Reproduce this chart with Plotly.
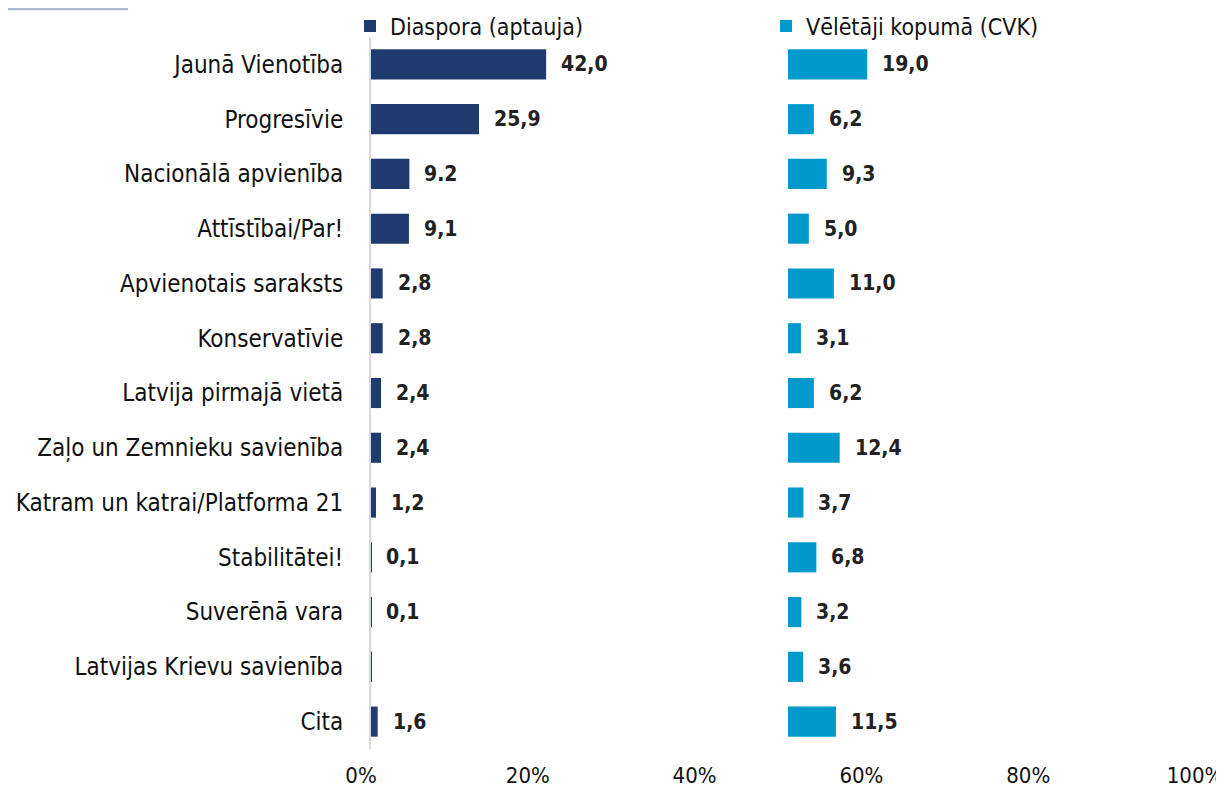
import plotly.graph_objects as go

categories = ["Jaunā Vienotība", "Progresīvie", "Nacionālā apvienība", "Attīstībai/Par!",
              "Apvienotais saraksts", "Konservatīvie", "Latvija pirmajā vietā",
              "Zaļo un Zemnieku savienība", "Katram un katrai/Platforma 21",
              "Stabilitātei!", "Suverēnā vara", "Latvijas Krievu savienība", "Cita"]
diaspora = [42.0, 25.9, 9.2, 9.1, 2.8, 2.8, 2.4, 2.4, 1.2, 0.1, 0.1, 0.1, 1.6]
diaspora_labels = ["42,0", "25,9", "9.2", "9,1", "2,8", "2,8", "2,4", "2,4", "1,2", "0,1", "0,1", "", "1,6"]
cvk = [19.0, 6.2, 9.3, 5.0, 11.0, 3.1, 6.2, 12.4, 3.7, 6.8, 3.2, 3.6, 11.5]
cvk_labels = ["19,0", "6,2", "9,3", "5,0", "11,0", "3,1", "6,2", "12,4", "3,7", "6,8", "3,2", "3,6", "11,5"]
cvk_base = 100  # second panel starts at middle of the 0-200 axis
tick_vals = [0, 40, 80, 120, 160, 200]
tick_text = ["0%", "20%", "40%", "60%", "80%", "100%"]

NAVY = "#1f3a6e"
BLUE = "#0099cc"
FONT = "DejaVu Sans Condensed, Liberation Sans Narrow, Arial Narrow, sans-serif"

fig = go.Figure()
fig.add_trace(go.Bar(y=categories, x=diaspora, orientation="h", base=0,
                     marker=dict(color=NAVY, line=dict(width=0)), width=0.55,
                     name="Diaspora (aptauja)", legend="legend"))
fig.add_trace(go.Bar(y=categories, x=cvk, orientation="h", base=[cvk_base] * len(cvk),
                     marker=dict(color=BLUE, line=dict(width=0)), width=0.55,
                     name="Vēlētāji kopumā (CVK)", legend="legend2"))

annotations = []
for c, v, t in zip(categories, diaspora, diaspora_labels):
    if t:
        annotations.append(dict(x=v, y=c, text=t, showarrow=False, xanchor="left",
                                xshift=13, font=dict(size=21, color="#222222", family=FONT, weight="bold")))
for c, v, t in zip(categories, cvk, cvk_labels):
    annotations.append(dict(x=cvk_base + v, y=c, text=t, showarrow=False, xanchor="left",
                            xshift=13, font=dict(size=21, color="#222222", family=FONT, weight="bold")))

# page body has an 8px margin, so the figure is sized 1216x779 and offsets are compensated
PW, PH = 834, 712
fig.update_layout(
    width=1216, height=779,
    margin=dict(l=363, r=19, t=29, b=38, autoexpand=False),
    paper_bgcolor="white", plot_bgcolor="white",
    barmode="overlay",
    font=dict(family=FONT, size=23, color="#111111"),
    annotations=annotations,
    showlegend=True,
    legend=dict(x=-21 / PW, y=1 + 11 / PH, xanchor="left", yanchor="middle", orientation="h",
                font=dict(size=23, family=FONT, color="#111111"), itemwidth=30,
                bgcolor="rgba(0,0,0,0)"),
    legend2=dict(x=(766 - 371) / PW, y=1 + 11 / PH, xanchor="left", yanchor="middle",
                 orientation="h", font=dict(size=23, family=FONT, color="#111111"), itemwidth=30,
                 bgcolor="rgba(0,0,0,0)"),
    shapes=[dict(type="line", xref="paper", yref="paper",
                 x0=-363 / PW, x1=(120 - 363) / PW, y0=1 + 28 / PH, y1=1 + 28 / PH,
                 line=dict(color="#a9b6cc", width=2.5))],
)
fig.update_xaxes(range=[0, 200], tickvals=tick_vals, ticktext=tick_text, showgrid=False,
                 zeroline=False, showline=False, ticks="", automargin=False,
                 ticklabeloverflow="allow", ticklabelshift=-10, ticklabelstandoff=11,
                 tickfont=dict(size=22, family=FONT, color="#111111"))
fig.update_yaxes(autorange="reversed", showgrid=False, showline=True, linecolor="#d9d9d9",
                 linewidth=2, ticks="", ticklabelstandoff=21, automargin=False,
                 tickfont=dict(size=24, family=FONT, color="#111111"))

fig.write_html("out.html")
